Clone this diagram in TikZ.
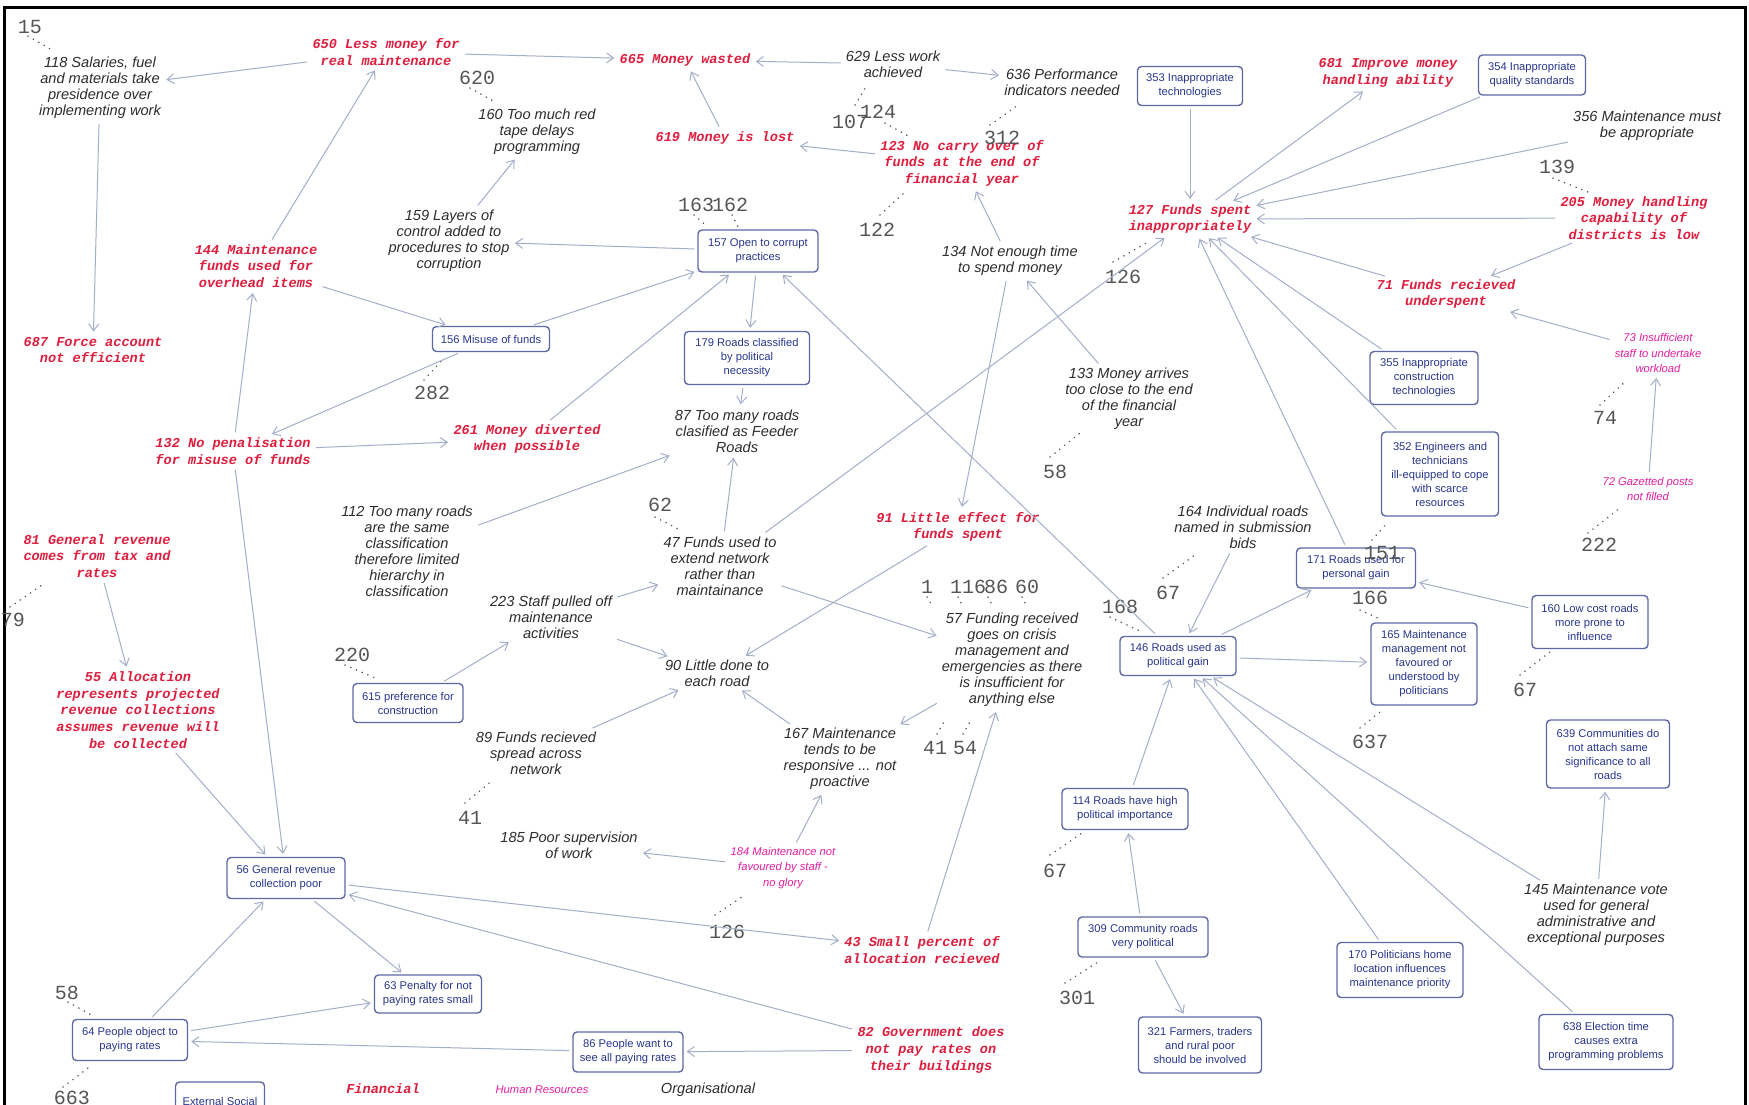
\documentclass[tikz,border=0pt]{standalone}
\usepackage{fontspec}
\setmainfont{Liberation Sans}
\newfontfamily\monofont{Liberation Mono}
\usetikzlibrary{arrows.meta}
\definecolor{redc}{RGB}{222,30,62}
\definecolor{magc}{RGB}{228,30,160}
\definecolor{bluec}{RGB}{40,55,140}
\definecolor{boxc}{RGB}{95,105,165}
\definecolor{arrc}{RGB}{163,175,200}
\definecolor{blkc}{RGB}{45,45,45}
\definecolor{numc}{RGB}{85,85,85}
\tikzset{
  redn/.style={font=\monofont\bfseries\itshape\fontsize{6.8}{8.3}\selectfont, text=redc, align=center, inner sep=1pt},
  blkn/.style={font=\itshape\fontsize{7.3}{8}\selectfont, text=blkc, align=center, inner sep=1pt},
  magn/.style={font=\itshape\fontsize{5.6}{7.7}\selectfont, text=magc, align=center, inner sep=1pt},
  boxn/.style={draw=boxc, line width=0.7pt, rounded corners=2pt, fill=white, font=\fontsize{5.6}{7}\selectfont, text=bluec, align=center, inner sep=1pt},
  bx/.style 2 args={minimum width=#1*0.5pt, minimum height=#2*0.5pt},
  numn/.style={font=\monofont\fontsize{10}{10}\selectfont, text=numc, inner sep=0pt},
  arr/.style={draw=arrc, line width=0.5pt, shorten >=1.5pt, shorten <=1.5pt, -{Straight Barb[length=3.5pt,width=5pt]}},
  numdot/.style={draw=numc, line width=0.8pt, line cap=round, dash pattern=on 0.1pt off 3pt}
}
\begin{document}
\begin{tikzpicture}[x=0.5pt,y=-0.5pt]
\clip (0,0) rectangle (1749,1104);
\fill[white] (0,0) rectangle (1749,1104);
\draw[line width=1.5pt] (4,1120) -- (4,7) -- (1745,7) -- (1745,1120);

% red nodes
\node[redn] (N650) at (386,52) {650 Less money for\\real maintenance};
\node[redn] (N665) at (685,60) {665 Money wasted};
\node[redn] (N619) at (725,138) {619 Money is lost};
\node[redn] (N123) at (962,163) {123 No carry over of\\funds at the end of\\financial year};
\node[redn] (N681) at (1388,73) {681 Improve money\\handling ability};
\node[redn] (N127) at (1190,219) {127 Funds spent\\inappropriately};
\node[redn] (N205) at (1634,218) {205 Money handling\\capability of\\districts is low};
\node[redn] (N71) at (1446,294) {71 Funds recieved\\underspent};
\node[redn] (N144) at (256,266) {144 Maintenance\\funds used for\\overhead items};
\node[redn] (N687) at (93,350) {687 Force account\\not efficient};
\node[redn] (N132) at (233,451) {132 No penalisation\\for misuse of funds};
\node[redn] (N261) at (527,439) {261 Money diverted\\when possible};
\node[redn] (N91) at (958,527) {91 Little effect for\\funds spent};
\node[redn] (N81) at (97,556) {81 General revenue\\comes from tax and\\rates};
\node[redn] (N55) at (138,710) {55 Allocation\\represents projected\\revenue collections\\assumes revenue will\\be collected};
\node[redn] (N43) at (922,950) {43 Small percent of\\allocation recieved};
\node[redn] (N82) at (931,1050) {82 Government does\\not pay rates on\\their buildings};

% black italic nodes
\node[blkn] (N118) at (100,88) {118 Salaries, fuel\\and materials take\\presidence over\\implementing work};
\node[blkn] (N629) at (893,64) {629 Less work\\achieved};
\node[blkn] (N636) at (1062,82) {636 Performance\\indicators needed};
\node[blkn] (N356) at (1647,126) {356 Maintenance must\\be appropriate};
\node[blkn] (N160b) at (537,132) {160 Too much red\\tape delays\\programming};
\node[blkn] (N159) at (449,241) {159 Layers of\\control added to\\procedures to stop\\corruption};
\node[blkn] (N134) at (1010,261) {134 Not enough time\\to spend money};
\node[blkn] (N133) at (1129,399) {133 Money arrives\\too close to the end\\of the financial\\year};
\node[blkn] (N87) at (737,431) {87 Too many roads\\clasified as Feeder\\Roads};
\node[blkn] (N112) at (407,551) {112 Too many roads\\are the same\\classification\\therefore limited\\hierarchy in\\classification};
\node[blkn] (N47) at (720,566) {47 Funds used to\\extend network\\rather than\\maintainance};
\node[blkn] (N164) at (1243,527) {164 Individual roads\\named in submission\\bids};
\node[blkn] (N223) at (551,617) {223 Staff pulled off\\maintenance\\activities};
\node[blkn] (N57) at (1012,660) {57 Funding received\\goes on crisis\\management and\\emergencies as there\\is insufficient for\\anything else};
\node[blkn] (N90) at (717,673) {90 Little done to\\each road};
\node[blkn] (N89) at (536,753) {89 Funds recieved\\spread across\\network};
\node[blkn] (N167) at (840,759) {167 Maintenance\\tends to be\\responsive ... not\\proactive};
\node[blkn] (N185) at (569,845) {185 Poor supervision\\of work};
\node[blkn] (N145) at (1596,915) {145 Maintenance vote\\used for general\\administrative and\\exceptional purposes};

% magenta nodes
\node[magn] (N73) at (1658,353) {73 Insufficient\\staff to undertake\\workload};
\node[magn] (N72) at (1648,489) {72 Gazetted posts\\not filled};
\node[magn] (N184) at (783,868) {184 Maintenance not\\favoured by staff -\\no glory};

% blue boxes
\node[boxn, bx={105}{39}] (N353) at (1190,86) {353 Inappropriate\\technologies};
\node[boxn, bx={107}{40}] (N354) at (1532,75) {354 Inappropriate\\quality standards};
\node[boxn, bx={120}{42}] (N157) at (758,251) {157 Open to corrupt\\practices};
\node[boxn, bx={117}{25}] (N156) at (491,339) {156 Misuse of funds};
\node[boxn, bx={125}{53}] (N179) at (747,358) {179 Roads classified\\by political\\necessity};
\node[boxn, bx={108}{53}] (N355) at (1424,378) {355 Inappropriate\\construction\\technologies};
\node[boxn, bx={117}{84}] (N352) at (1440,474) {352 Engineers and\\technicians\\ill-equipped to cope\\with scarce\\resources};
\node[boxn, bx={119}{40}] (N171) at (1356,568) {171 Roads used for\\personal gain};
\node[boxn, bx={116}{39}] (N146) at (1178,656) {146 Roads used as\\political gain};
\node[boxn, bx={116}{53}] (N160) at (1590,622) {160 Low cost roads\\more prone to\\influence};
\node[boxn, bx={106}{82}] (N165) at (1424,664) {165 Maintenance\\management not\\favoured or\\understood by\\politicians};
\node[boxn, bx={110}{39}] (N615) at (408,703) {615 preference for\\construction};
\node[boxn, bx={123}{68}] (N639) at (1608,754) {639 Communities do\\not attach same\\significance to all\\roads};
\node[boxn, bx={126}{41}] (N114) at (1125,809) {114 Roads have high\\political importance};
\node[boxn, bx={118}{41}] (N56) at (286,878) {56 General revenue\\collection poor};
\node[boxn, bx={130}{40}] (N309) at (1143,937) {309 Community roads\\very political};
\node[boxn, bx={126}{55}] (N170) at (1400,970) {170 Politicians home\\location influences\\maintenance priority};
\node[boxn, bx={107}{38}] (N63) at (428,994) {63 Penalty for not\\paying rates small};
\node[boxn, bx={115}{41}] (N64) at (130,1040) {64 People object to\\paying rates};
\node[boxn, bx={134}{55}] (N638) at (1606,1042) {638 Election time\\causes extra\\programming problems};
\node[boxn, bx={123}{56}] (N321) at (1200,1045) {321 Farmers, traders\\and rural poor\\should be involved};
\node[boxn, bx={110}{40}] (N86) at (628,1052) {86 People want to\\see all paying rates};

% legend
\node[boxn, bx={89}{38}] (LExt) at (220,1101) {External Social};
\node[redn] (LFin) at (383,1089) {Financial};
\node[magn] (LHR) at (542,1090) {Human Resources};
\node[blkn] (LOrg) at (708,1090) {Organisational};

% numbers
\node[numn] (n15) at (30,27) {15};
\node[numn] (n620) at (477,78) {620};
\node[numn] (n107) at (850,122) {107};
\node[numn] (n124) at (878,112) {124};
\node[numn] (n312) at (1002,138) {312};
\node[numn] (n122) at (877,230) {122};
\node[numn] (n163) at (696,205) {163};
\node[numn] (n162) at (730,205) {162};
\node[numn] (n139) at (1557,167) {139};
\node[numn] (n126a) at (1123,277) {126};
\node[numn] (n282) at (432,393) {282};
\node[numn] (n74) at (1605,418) {74};
\node[numn] (n58a) at (1055,472) {58};
\node[numn] (n62) at (660,505) {62};
\node[numn] (n222) at (1599,545) {222};
\node[numn] (n151) at (1382,553) {151};
\node[numn] (n1) at (927,587) {1};
\node[numn] (n116) at (968,587) {116};
\node[numn] (n86) at (996,587) {86};
\node[numn] (n60) at (1027,587) {60};
\node[numn] (n67a) at (1168,593) {67};
\node[numn] (n168) at (1120,607) {168};
\node[numn] (n166) at (1370,598) {166};
\node[numn] (n220) at (352,655) {220};
\node[numn] (n67b) at (1525,690) {67};
\node[numn] (n637) at (1370,742) {637};
\node[numn] (n41a) at (470,818) {41};
\node[numn] (n41b) at (935,748) {41};
\node[numn] (n54) at (965,748) {54};
\node[numn] (n67c) at (1055,871) {67};
\node[numn] (n126b) at (727,932) {126};
\node[numn] (n58b) at (67,993) {58};
\node[numn] (n301) at (1077,998) {301};
\node[numn] (n663) at (72,1098) {663};
\node[numn] (n79) at (13,620) {79};

% dotted marks
\draw[numdot] (n15) ++(-2,9) -- ++(24,14);
\draw[numdot] (n620) ++(-7,10) -- ++(25,14);
\draw[numdot] (n107) ++(5,-17) -- ++(12,-20);
\draw[numdot] (n124) ++(7,11) -- ++(25,14);
\draw[numdot] (n312) ++(-12,-13) -- ++(28,-20);
\draw[numdot] (n122) ++(3,-15) -- ++(25,-23);
\draw[numdot] (n163) ++(-2,10) -- ++(14,12);
\draw[numdot] (n162) ++(2,10) -- ++(6,12);
\draw[numdot] (n139) ++(-4,11) -- ++(35,14);
\draw[numdot] (n126a) ++(-10,-15) -- ++(35,-20);
\draw[numdot] (n282) ++(-8,-13) -- ++(20,-22);
\draw[numdot] (n74) ++(-5,-13) -- ++(27,-25);
\draw[numdot] (n58a) ++(-5,-15) -- ++(30,-24);
\draw[numdot] (n62) ++(-5,12) -- ++(25,13);
\draw[numdot] (n222) ++(-11,-12) -- ++(32,-25);
\draw[numdot] (n151) ++(-10,-13) -- ++(16,-18);
\draw[numdot] (n1) ++(0,10) -- ++(6,10);
\draw[numdot] (n116) ++(-10,10) -- ++(5,10);
\draw[numdot] (n86) ++(-8,10) -- ++(5,10);
\draw[numdot] (n60) ++(-5,10) -- ++(5,10);
\draw[numdot] (n67a) ++(-5,-15) -- ++(32,-23);
\draw[numdot] (n168) ++(-10,10) -- ++(32,15);
\draw[numdot] (n166) ++(-10,12) -- ++(22,10);
\draw[numdot] (n220) ++(-7,10) -- ++(30,13);
\draw[numdot] (n67b) ++(-5,-15) -- ++(30,-23);
\draw[numdot] (n637) ++(-10,-14) -- ++(20,-16);
\draw[numdot] (n41a) ++(-5,-15) -- ++(28,-23);
\draw[numdot] (n41b) ++(2,-14) -- ++(8,-14);
\draw[numdot] (n54) ++(-2,-14) -- ++(8,-14);
\draw[numdot] (n67c) ++(-5,-16) -- ++(32,-22);
\draw[numdot] (n126b) ++(-12,-17) -- ++(30,-20);
\draw[numdot] (n58b) ++(1,9) -- ++(27,15);
\draw[numdot] (n301) ++(-12,-15) -- ++(33,-21);
\draw[numdot] (n663) ++(-9,-11) -- ++(29,-22);
\draw[numdot] (n79) ++(-3,-13) -- ++(32,-22);

% connectors
\draw[arr] (N650) -- (N118);
\draw[arr] (N118) -- (N687);
\draw[arr] (N144) -- (N650);
\draw[arr] (N650) -- (N665);
\draw[arr] (N629) -- (N665);
\draw[arr] (N629) -- (N636);
\draw[arr] (N619) -- (N665);
\draw[arr] (N123) -- (N619);
\draw[arr] (N159) -- (N160b);
\draw[arr] (N157) -- (N159);
\draw[arr] (N144) -- (N156);
\draw[arr] (N156) -- (N157);
\draw[arr] (N156) -- (N132);
\draw[arr] (N132) -- (N261);
\draw[arr] (N132) -- (N144);
\draw[arr] (N132) -- (N56);
\draw[arr] (N81) -- (N55);
\draw[arr] (N55) -- (N56);
\draw[arr] (N64) -- (N56);
\draw[arr] (N56) -- (N63);
\draw[arr] (N64) -- (N63);
\draw[arr] (N86) -- (N64);
\draw[arr] (N82) -- (N86);
\draw[arr] (N82) -- (N56);
\draw[arr] (N56) -- (N43);
\draw[arr] (N43) -- (N57);
\draw[arr] (N184) -- (N185);
\draw[arr] (N184) -- (N167);
\draw[arr] (N167) -- (N90);
\draw[arr] (N89) -- (N90);
\draw[arr] (N223) -- (N90);
\draw[arr] (N223) -- (N47);
\draw[arr] (N615) -- (N223);
\draw[arr] (N47) -- (N87);
\draw[arr] (N112) -- (N87);
\draw[arr] (N179) -- (N87);
\draw[arr] (N157) -- (N179);
\draw[arr] (N261) -- (N157);
\draw[arr] (N146) -- (N157);
\draw[arr] (N47) -- (N57);
\draw[arr] (N91) -- (N90);
\draw[arr] (N57) -- (N167);
\draw[arr] (N134) -- (N91);
\draw[arr] (N134) -- (N123);
\draw[arr] (N133) -- (N134);
\draw[arr] (N47) -- (N127);
\draw[arr] (N353) -- (N127);
\draw[arr] (N127) -- (N681);
\draw[arr] (N354) -- (N127);
\draw[arr] (N356) -- (N127);
\draw[arr] (N205) -- (N127);
\draw[arr] (N71) -- (N127);
\draw[arr] (N205) -- (N71);
\draw[arr] (N73) -- (N71);
\draw[arr] (N72) -- (N73);
\draw[arr] (N355) -- (N127);
\draw[arr] (N352) -- (N127);
\draw[arr] (N171) -- (N127);
\draw[arr] (N164) -- (N146);
\draw[arr] (N146) -- (N171);
\draw[arr] (N146) -- (N165);
\draw[arr] (N160) -- (N171);
\draw[arr] (N114) -- (N146);
\draw[arr] (N309) -- (N114);
\draw[arr] (N309) -- (N321);
\draw[arr] (N170) -- (N146);
\draw[arr] (N638) -- (N146);
\draw[arr] (N145) -- (N146);
\draw[arr] (N145) -- (N639);
\end{tikzpicture}
\end{document}
